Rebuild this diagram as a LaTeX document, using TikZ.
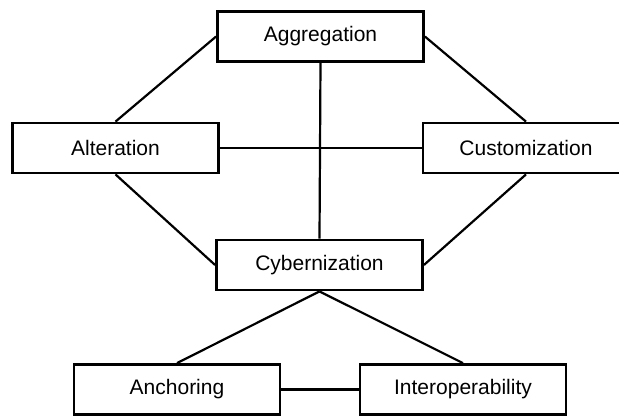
\documentclass[tikz,border=0pt]{standalone}
\usepackage{fontspec}
\setmainfont{Liberation Sans}
\begin{document}
\begin{tikzpicture}[x=1pt,y=-1pt,
  block/.style={draw=black, line width=2.8pt, fill=white, minimum width=206pt,
    minimum height=50pt, inner sep=0pt, font=\fontsize{21}{24}\selectfont},
  link/.style={draw=black, line width=2.2pt}]
  \useasboundingbox (0,0) rectangle (619,416);
  \clip (0,0) rectangle (619,416);

  % concept boxes
  \node[block] (agg) at (320.5,36.5) {Aggregation};
  \node[block] (alt) at (115.5,148) {Alteration};
  \node[block] (cus) at (526,148) {Customization};
  \node[block] (cyb) at (319.5,265) {Cybernization};
  \node[block] (anc) at (177,389.5) {Anchoring};
  \node[block] (int) at (463,389.5) {Interoperability};

  % connections between the concepts
  \path[link] (agg.west) -- (alt.north);
  \path[link] (agg.east) -- (cus.north);
  \path[link] (alt.east) -- (cus.west);
  \path[link] (agg.south) -- (cyb.north);
  \path[link] (alt.south) -- (cyb.west);
  \path[link] (cus.south) -- (cyb.east);
  \path[link] (cyb.south) -- (anc.north);
  \path[link] (cyb.south) -- (int.north);
  \path[link] (anc.east) -- (int.west);
\end{tikzpicture}
\end{document}
